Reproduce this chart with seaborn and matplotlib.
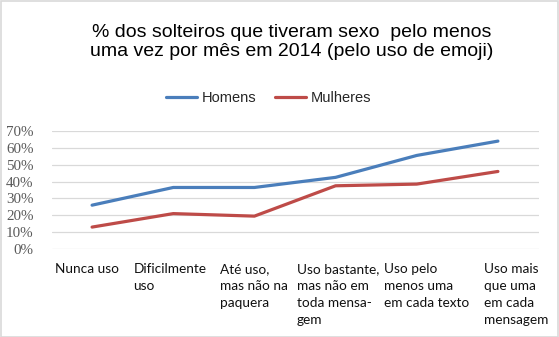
import matplotlib
matplotlib.use("Agg")
import matplotlib.pyplot as plt
import matplotlib.transforms as mtransforms
from matplotlib.patches import Rectangle
import seaborn as sns
import pandas as pd

# Data
categories = [
    "Nunca uso",
    "Dificilmente\nuso",
    "Até uso,\nmas não na\npaquera",
    "Uso bastante,\nmas não em\ntoda mensa-\ngem",
    "Uso pelo\nmenos uma\nem cada texto",
    "Uso mais\nque uma\nem cada\nmensagem",
]
homens = [26.0, 36.5, 36.5, 42.5, 55.5, 64.0]
mulheres = [13.0, 21.0, 19.5, 37.5, 38.5, 46.0]
series_names = ["Homens", "Mulheres"]
y_ticks = [0, 10, 20, 30, 40, 50, 60, 70]
title = "% dos solteiros que tiveram sexo  pelo menos\numa vez por mês em 2014 (pelo uso de emoji)"

df = pd.DataFrame({
    "categoria": categories * 2,
    "valor": homens + mulheres,
    "grupo": [series_names[0]] * len(categories) + [series_names[1]] * len(categories),
})

sns.set_theme(style="white")
plt.rcParams["font.family"] = ["Liberation Sans", "DejaVu Sans"]

W, H = 559, 337
fig = plt.figure(figsize=(W / 100, H / 100), dpi=100)
fig.patch.set_facecolor("white")

# plot area in pixels: x 51.5..538.5, y 131..249 (top-down)
ax = fig.add_axes([51.5 / W, (H - 249) / H, 487 / W, 118 / H])

palette = {"Homens": "#4A7EBB", "Mulheres": "#BE4B48"}
sns.lineplot(data=df, x="categoria", y="valor", hue="grupo", palette=palette,
             sort=False, linewidth=2.3, ax=ax, legend=False)

ax.set_xlim(-0.5, len(categories) - 0.5)
ax.set_ylim(0, 70)
ax.set_yticks(y_ticks)
ax.set_yticklabels([f"{v}%" for v in y_ticks], family=["Liberation Serif"],
                   fontsize=10.8, color="#595959")
ax.tick_params(axis="y", length=0, pad=13)
ax.set_xticks([])
ax.set_xlabel("")
ax.set_ylabel("")
ax.yaxis.grid(True, color="#D9D9D9", linewidth=0.9)
ax.set_axisbelow(True)
for s in ax.spines.values():
    s.set_visible(False)

# category labels below the plot area, left-aligned text boxes
label_shift = [-0.46, -0.49, -0.43, -0.48, -0.40, -0.17]
trans = mtransforms.blended_transform_factory(ax.transData, fig.transFigure)
for i, (lab, dx) in enumerate(zip(categories, label_shift)):
    ax.text(i + dx, 1 - 263 / H, lab, transform=trans, ha="left", va="top",
            fontsize=9.8, family=["Lato", "DejaVu Sans"], color="#111111",
            linespacing=1.5)

# title
fig.text(292 / W, 1 - 42 / H, title, ha="center", va="center", fontsize=14,
         color="black", linespacing=1.12)

# legend
handles = [plt.Line2D([], [], color=palette[n], linewidth=2.3) for n in series_names]
fig.legend(handles, series_names, loc="center left",
           bbox_to_anchor=(166 / W, 1 - 98 / H), bbox_transform=fig.transFigure,
           ncol=2, frameon=False, fontsize=10.5, handlelength=2.1,
           handletextpad=0.35, columnspacing=1.3, borderpad=0, borderaxespad=0)

# chart border
fig.patches.append(Rectangle((0.5 / W, 0.5 / H), (W - 1.5) / W, (H - 1.5) / H,
                             transform=fig.transFigure, fill=False,
                             edgecolor="#D9D9D9", linewidth=1.2))

fig.savefig("out.png", dpi=100, facecolor="white")
